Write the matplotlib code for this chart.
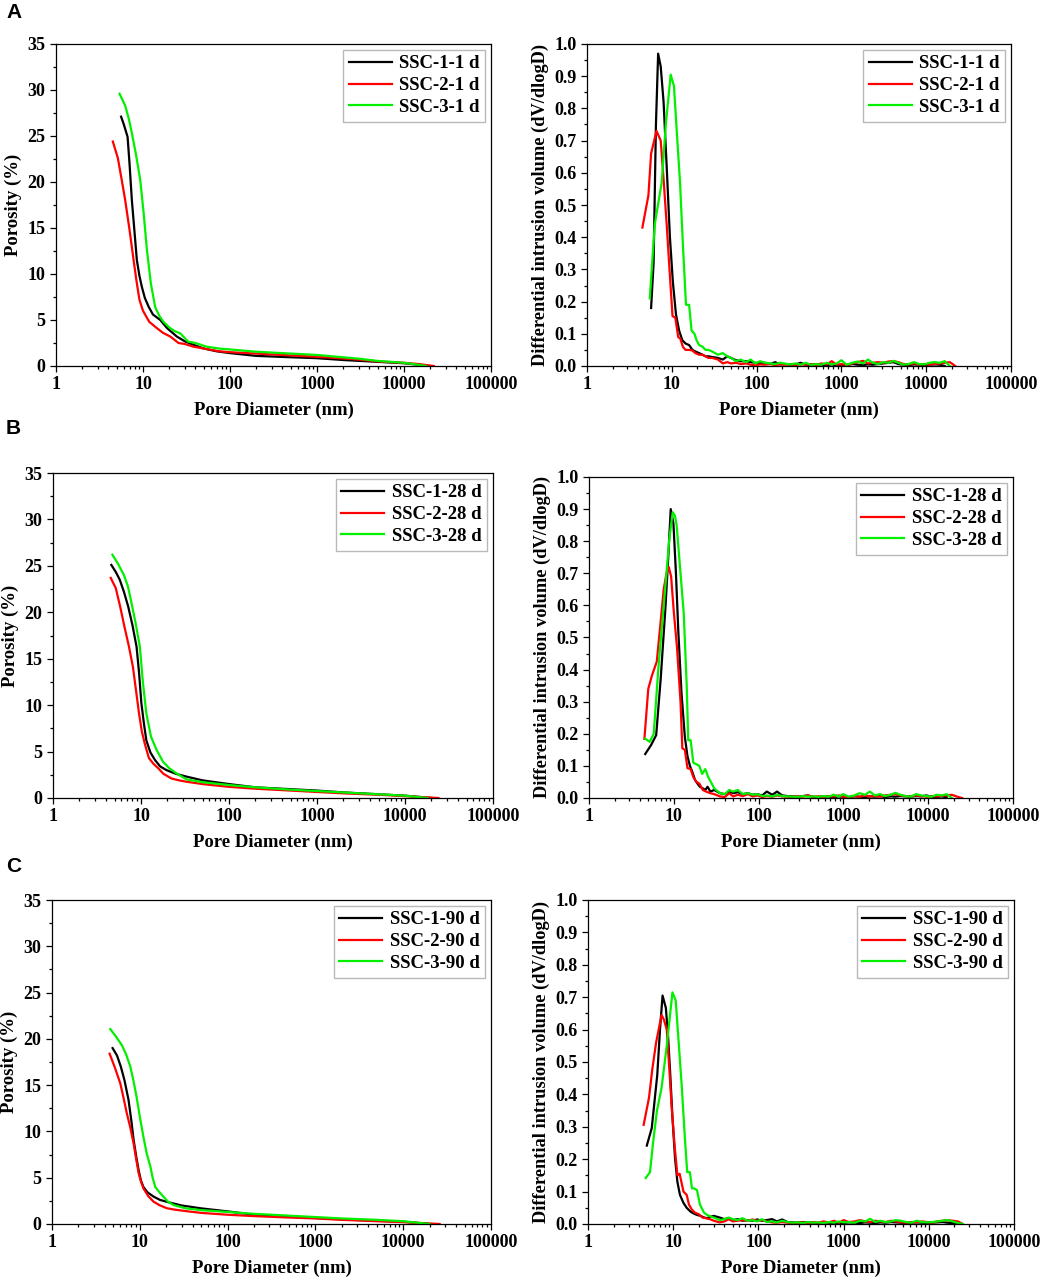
import numpy as np
import matplotlib
matplotlib.use("Agg")
import matplotlib.pyplot as plt
from matplotlib.ticker import LogLocator, NullFormatter, AutoMinorLocator, MultipleLocator

plt.rcParams['font.family'] = ['Liberation Serif', 'DejaVu Serif']
plt.rcParams['font.weight'] = 'bold'

ages = ['1 d', '28 d', '90 d']
samples = ['SSC-1', 'SSC-2', 'SSC-3']
colors = ['black', '#ff0000', '#00f000']

# ---- cumulative porosity (%) vs pore diameter (nm) ----
por_d = {
    ('1 d', 'SSC-1'): [5.6, 6.0, 6.65, 7.0, 7.45, 8.0, 8.5, 9.1, 9.7, 10.5, 11.6, 13.0, 15.8, 19, 24.5, 30, 38, 50, 70, 100, 200, 500, 1000, 2000, 5000, 10000, 18000],
    ('1 d', 'SSC-2'): [4.5, 5.14, 5.7, 6.25, 7.0, 7.8, 8.4, 9.1, 10, 11.8, 14.5, 17, 20.6, 25.6, 30, 38, 50, 75, 100, 200, 500, 1000, 1500, 3000, 5000, 10000, 15000, 22000],
    ('1 d', 'SSC-3'): [5.37, 6.24, 6.9, 7.45, 8.3, 9.3, 10.2, 11.1, 12.3, 13.8, 15.5, 17.2, 20, 23, 26.8, 33, 40, 54, 75, 100, 200, 500, 1000, 1500, 3000, 5000, 10000, 18000],
    ('28 d', 'SSC-1'): [4.6, 5.2, 5.74, 6.4, 7.16, 8.0, 8.9, 9.5, 10.1, 10.8, 11.5, 12.8, 14.4, 16.5, 19.5, 25, 33, 50, 100, 200, 500, 1000, 2000, 5000, 10000, 20000],
    ('28 d', 'SSC-2'): [4.53, 5.17, 5.8, 6.5, 7.3, 8.1, 8.8, 9.5, 10.2, 11.0, 12.3, 13.8, 15.7, 18, 22.2, 27, 33, 50, 100, 200, 500, 1000, 2000, 5000, 10000, 24000],
    ('28 d', 'SSC-3'): [4.73, 5.5, 6.4, 7.1, 7.8, 8.7, 9.7, 10.5, 11.5, 13.0, 15.0, 17.8, 21, 25.3, 33, 50, 100, 200, 500, 1000, 2000, 5000, 10000, 18000],
    ('90 d', 'SSC-1'): [4.9, 5.5, 6.08, 6.7, 7.44, 8.0, 8.5, 9.1, 9.7, 10.3, 11.0, 12.3, 14.4, 17, 22.2, 30, 49, 107, 200, 500, 1000, 2000, 5000, 10000, 20000],
    ('90 d', 'SSC-2'): [4.53, 5.2, 5.99, 6.5, 7.1, 7.8, 8.5, 9.1, 9.7, 10.3, 11.0, 12.5, 14.4, 17, 20.4, 25, 33, 50, 100, 200, 500, 1000, 2000, 5000, 10000, 26000],
    ('90 d', 'SSC-3'): [4.61, 5.4, 6.26, 7.0, 7.8, 8.5, 9.2, 10.0, 11.0, 12.0, 13.2, 14.0, 15.0, 16.5, 18.6, 21, 24.2, 33, 50, 100, 200, 500, 1000, 2000, 5000, 10000, 20000],
}
por_v = {
    ('1 d', 'SSC-1'): [27.1, 26.3, 24.9, 22, 18.0, 14.5, 11.5, 9.8, 8.6, 7.4, 6.45, 5.6, 5.0, 4.1, 3.2, 2.7, 2.3, 1.9, 1.6, 1.4, 1.1, 0.95, 0.85, 0.65, 0.45, 0.3, 0.05],
    ('1 d', 'SSC-2'): [24.4, 22.6, 20.2, 18.0, 14.8, 11.5, 9.3, 7.2, 6.0, 4.8, 4.1, 3.6, 3.2, 2.5, 2.4, 2.1, 1.9, 1.6, 1.5, 1.35, 1.15, 1.0, 0.9, 0.7, 0.5, 0.35, 0.2, 0.0],
    ('1 d', 'SSC-3'): [29.6, 28.3, 26.8, 25.3, 23.0, 20.2, 16.5, 12.6, 9.0, 6.4, 5.4, 4.8, 4.2, 3.8, 3.55, 2.65, 2.5, 2.1, 1.9, 1.8, 1.55, 1.35, 1.2, 1.05, 0.8, 0.55, 0.35, 0.0],
    ('28 d', 'SSC-1'): [25.1, 24.3, 23.5, 22.2, 20.6, 18.6, 16.3, 13.5, 10.2, 8.0, 6.2, 4.9, 4.1, 3.4, 3.0, 2.6, 2.3, 1.9, 1.5, 1.15, 0.95, 0.8, 0.6, 0.4, 0.25, 0.0],
    ('28 d', 'SSC-2'): [23.7, 22.6, 20.6, 18.4, 16.3, 14.1, 11.5, 9.1, 7.2, 5.9, 4.3, 3.7, 3.2, 2.6, 2.1, 1.9, 1.75, 1.5, 1.2, 1.0, 0.8, 0.65, 0.5, 0.35, 0.2, 0.0],
    ('28 d', 'SSC-3'): [26.2, 25.2, 24.0, 22.8, 21.0, 18.8, 16.3, 12.5, 9.1, 6.6, 5.2, 3.9, 3.2, 2.65, 2.0, 1.7, 1.4, 1.15, 0.9, 0.75, 0.6, 0.4, 0.25, 0.0],
    ('90 d', 'SSC-1'): [19.0, 18.2, 17.0, 15.5, 13.4, 11.2, 9.1, 7.3, 5.8, 4.7, 4.0, 3.4, 2.95, 2.6, 2.3, 2.0, 1.7, 1.33, 1.0, 0.8, 0.65, 0.5, 0.35, 0.25, 0.0],
    ('90 d', 'SSC-2'): [18.4, 16.9, 15.2, 13.7, 12.0, 10.4, 8.7, 7.0, 5.5, 4.6, 3.85, 3.0, 2.4, 2.0, 1.7, 1.55, 1.4, 1.2, 1.0, 0.85, 0.7, 0.6, 0.45, 0.3, 0.2, 0.0],
    ('90 d', 'SSC-3'): [21.05, 20.2, 19.3, 18.3, 17.0, 15.4, 13.7, 11.6, 9.4, 7.6, 6.2, 5.0, 4.0, 3.5, 2.95, 2.4, 2.05, 1.7, 1.5, 1.3, 1.1, 0.9, 0.75, 0.6, 0.45, 0.3, 0.0],
}

# ---- differential intrusion (dV/dlogD): main peak part ----
peak_d = {
    ('1 d', 'SSC-1'): [5.7, 6.1, 6.5, 6.9, 7.4, 8.0, 8.7, 9.5, 10.3, 11.2, 12.2, 13.3, 14.5, 16, 17.5, 19, 21, 23, 25, 27],
    ('1 d', 'SSC-2'): [4.5, 5.3, 5.7, 6.6, 7.4, 8.0, 8.7, 9.5, 10.2, 11, 11.9, 12.6, 13.5, 14.5, 16, 17.5, 19, 21, 23, 25, 27],
    ('1 d', 'SSC-3'): [5.5, 6.3, 7.6, 8.5, 9.7, 10.6, 11.5, 12.5, 13.5, 14.7, 16, 17.1, 18.5, 19.6, 21, 23, 25, 27],
    ('28 d', 'SSC-1'): [4.6, 5.4, 6.2, 7.0, 8.0, 8.6, 9.2, 9.9, 10.6, 11.3, 12.3, 13.5, 14.5, 15.5, 16.6, 17.8, 19, 20.3, 22, 23.5, 25, 27],
    ('28 d', 'SSC-2'): [4.5, 5.0, 5.5, 6.3, 7.0, 7.6, 8.2, 8.7, 9.3, 10.0, 10.9, 12.0, 12.6, 13.5, 14.5, 15.8, 17, 18.5, 20, 22, 24, 27],
    ('28 d', 'SSC-3'): [4.6, 5.2, 5.8, 6.6, 7.9, 8.8, 9.7, 10.3, 10.8, 12.0, 13.1, 14.2, 14.8, 15.8, 17, 18.5, 20, 21.6, 23.5, 25.5, 28],
    ('90 d', 'SSC-1'): [4.9, 5.6, 6.5, 7.0, 7.5, 8.2, 8.7, 9.2, 9.8, 10.5, 11.2, 12.0, 13.2, 14.4, 16, 17.5, 19, 21, 23, 25, 27],
    ('90 d', 'SSC-2'): [4.5, 5.2, 5.7, 6.3, 7.3, 7.8, 8.4, 9.0, 9.6, 10.4, 11.2, 11.9, 13.2, 14.4, 15.3, 16.5, 18, 20, 22, 24, 27],
    ('90 d', 'SSC-3'): [4.75, 5.34, 5.8, 6.45, 7.3, 8.4, 9.8, 10.7, 11.6, 12.6, 13.6, 14.6, 15.7, 16.6, 17.5, 19, 20.6, 23, 25, 28],
}
peak_v = {
    ('1 d', 'SSC-1'): [0.18, 0.32, 0.75, 0.97, 0.93, 0.82, 0.62, 0.40, 0.26, 0.16, 0.11, 0.08, 0.07, 0.065, 0.05, 0.045, 0.04, 0.035, 0.03, 0.03],
    ('1 d', 'SSC-2'): [0.43, 0.53, 0.66, 0.73, 0.70, 0.58, 0.44, 0.28, 0.155, 0.15, 0.09, 0.085, 0.06, 0.05, 0.05, 0.048, 0.04, 0.035, 0.035, 0.03, 0.025],
    ('1 d', 'SSC-3'): [0.21, 0.44, 0.57, 0.75, 0.905, 0.87, 0.72, 0.57, 0.38, 0.19, 0.19, 0.11, 0.10, 0.08, 0.065, 0.06, 0.05, 0.05],
    ('28 d', 'SSC-1'): [0.137, 0.165, 0.196, 0.37, 0.60, 0.75, 0.90, 0.855, 0.70, 0.52, 0.33, 0.19, 0.13, 0.10, 0.08, 0.056, 0.045, 0.035, 0.03, 0.025, 0.035, 0.02],
    ('28 d', 'SSC-2'): [0.184, 0.34, 0.38, 0.425, 0.55, 0.65, 0.70, 0.72, 0.69, 0.58, 0.47, 0.30, 0.155, 0.15, 0.093, 0.09, 0.065, 0.05, 0.045, 0.025, 0.02, 0.015],
    ('28 d', 'SSC-3'): [0.185, 0.175, 0.20, 0.41, 0.65, 0.80, 0.89, 0.88, 0.85, 0.70, 0.575, 0.35, 0.18, 0.18, 0.11, 0.105, 0.10, 0.075, 0.09, 0.065, 0.045],
    ('90 d', 'SSC-1'): [0.242, 0.296, 0.46, 0.60, 0.705, 0.667, 0.58, 0.47, 0.33, 0.204, 0.13, 0.09, 0.065, 0.05, 0.038, 0.032, 0.028, 0.025, 0.02, 0.018, 0.022],
    ('90 d', 'SSC-2'): [0.306, 0.39, 0.48, 0.56, 0.645, 0.63, 0.60, 0.48, 0.36, 0.24, 0.15, 0.155, 0.10, 0.09, 0.06, 0.045, 0.035, 0.03, 0.02, 0.018, 0.015],
    ('90 d', 'SSC-3'): [0.142, 0.16, 0.25, 0.35, 0.42, 0.55, 0.715, 0.69, 0.56, 0.425, 0.28, 0.16, 0.16, 0.11, 0.11, 0.105, 0.06, 0.035, 0.028, 0.022],
}

# ---- differential intrusion: noisy tail on a shared diameter list ----
tail_d = [30, 35, 40, 45, 50, 57, 65, 75, 85, 97, 110, 125, 145, 165, 190, 220, 250, 290, 330, 380,
          440, 500, 580, 670, 770, 880, 1000, 1150, 1350, 1550, 1800, 2050, 2350, 2700, 3100, 3600,
          4100, 4700, 5400, 6200, 7200, 8300, 9500, 11000, 12500, 14500, 16500, 19000, 22000, 25000]
nan = np.nan
tail_v = {
    ('1 d', 'SSC-1'): [0.028, 0.025, 0.02, 0.03, 0.025, 0.018, 0.015, 0.015, 0.012, 0.01, 0.008, 0.01, 0.006, 0.012, 0.005, 0.006, 0.004, 0.005, 0.01, 0.004,
                       0.003, 0.006, 0.004, 0.003, 0.005, 0.002, 0.004, 0.003, 0.006, 0.004, 0.003, 0.005, 0.004, 0.006, 0.008, 0.01,
                       0.012, 0.006, 0.004, 0.003, 0.005, 0.004, 0.003, 0.004, 0.005, 0.004, 0.0, nan, nan, nan],
    ('1 d', 'SSC-2'): [0.025, 0.02, 0.008, 0.012, 0.008, 0.01, 0.006, 0.008, 0.004, 0.002, 0.005, 0.004, 0.006, 0.003, 0.005, 0.004, 0.006, 0.003, 0.005, 0.004,
                       0.006, 0.003, 0.008, 0.005, 0.015, 0.004, 0.006, 0.003, 0.008, 0.012, 0.016, 0.008, 0.01, 0.012, 0.01, 0.014,
                       0.015, 0.012, 0.006, 0.005, 0.008, 0.005, 0.006, 0.004, 0.006, 0.008, 0.01, 0.012, 0.0, nan],
    ('1 d', 'SSC-3'): [0.045, 0.035, 0.04, 0.03, 0.025, 0.015, 0.02, 0.012, 0.02, 0.008, 0.015, 0.01, 0.008, 0.006, 0.01, 0.007, 0.005, 0.008, 0.004, 0.01,
                       0.003, 0.006, 0.004, 0.01, 0.005, 0.008, 0.018, 0.004, 0.01, 0.014, 0.008, 0.02, 0.01, 0.006, 0.012, 0.01,
                       0.016, 0.01, 0.004, 0.006, 0.012, 0.006, 0.005, 0.01, 0.012, 0.01, 0.015, 0.0, nan, nan],
    ('28 d', 'SSC-1'): [0.025, 0.015, 0.012, 0.02, 0.015, 0.018, 0.012, 0.015, 0.01, 0.012, 0.008, 0.02, 0.01, 0.02, 0.008, 0.006, 0.005, 0.004, 0.006, 0.008,
                        0.004, 0.003, 0.005, 0.004, 0.003, 0.005, 0.004, 0.003, 0.005, 0.004, 0.003, 0.005, 0.004, 0.006, 0.003, 0.005,
                        0.004, 0.006, 0.005, 0.004, 0.006, 0.005, 0.008, 0.004, 0.003, 0.005, 0.002, nan, nan, nan],
    ('28 d', 'SSC-2'): [0.012, 0.005, 0.003, 0.015, 0.005, 0.01, 0.006, 0.012, 0.005, 0.008, 0.003, 0.006, 0.004, 0.008, 0.005, 0.004, 0.003, 0.005, 0.004, 0.008,
                        0.003, 0.005, 0.004, 0.006, 0.005, 0.008, 0.004, 0.003, 0.006, 0.004, 0.008, 0.005, 0.006, 0.004, 0.008, 0.01,
                        0.012, 0.008, 0.006, 0.005, 0.008, 0.006, 0.004, 0.006, 0.005, 0.007, 0.008, 0.01, 0.004, 0.0],
    ('28 d', 'SSC-3'): [0.03, 0.015, 0.012, 0.025, 0.02, 0.025, 0.012, 0.015, 0.01, 0.012, 0.006, 0.008, 0.005, 0.01, 0.006, 0.005, 0.004, 0.003, 0.006, 0.004,
                        0.005, 0.003, 0.006, 0.004, 0.01, 0.005, 0.012, 0.004, 0.008, 0.015, 0.01, 0.02, 0.008, 0.012, 0.006, 0.01,
                        0.016, 0.01, 0.006, 0.004, 0.012, 0.008, 0.006, 0.004, 0.01, 0.008, 0.012, 0.0, nan, nan],
    ('90 d', 'SSC-1'): [0.025, 0.02, 0.015, 0.018, 0.012, 0.015, 0.01, 0.012, 0.01, 0.014, 0.01, 0.012, 0.015, 0.008, 0.014, 0.006, 0.005, 0.004, 0.006, 0.005,
                        0.004, 0.003, 0.005, 0.004, 0.003, 0.004, 0.003, 0.005, 0.004, 0.003, 0.005, 0.004, 0.003, 0.005, 0.004, 0.006,
                        0.005, 0.004, 0.003, 0.004, 0.005, 0.004, 0.003, 0.004, 0.005, 0.006, 0.004, 0.003, 0.0, nan],
    ('90 d', 'SSC-2'): [0.01, 0.005, 0.008, 0.015, 0.008, 0.01, 0.012, 0.01, 0.014, 0.01, 0.012, 0.008, 0.005, 0.004, 0.006, 0.004, 0.003, 0.004, 0.005, 0.003,
                        0.006, 0.004, 0.008, 0.005, 0.01, 0.004, 0.012, 0.006, 0.008, 0.012, 0.008, 0.006, 0.01, 0.008, 0.006, 0.01,
                        0.008, 0.006, 0.004, 0.006, 0.005, 0.008, 0.006, 0.004, 0.008, 0.01, 0.012, 0.01, 0.008, 0.0],
    ('90 d', 'SSC-3'): [0.02, 0.012, 0.015, 0.02, 0.015, 0.012, 0.018, 0.01, 0.012, 0.008, 0.015, 0.006, 0.008, 0.005, 0.01, 0.006, 0.004, 0.005, 0.003, 0.006,
                        0.004, 0.005, 0.003, 0.006, 0.004, 0.008, 0.005, 0.006, 0.004, 0.01, 0.008, 0.016, 0.006, 0.01, 0.006, 0.008,
                        0.012, 0.01, 0.006, 0.004, 0.01, 0.006, 0.005, 0.006, 0.008, 0.01, 0.012, 0.008, 0.003, 0.0],
}

# axes boxes in pixels: (left, right, top, bottom)
W, H = 1045, 1279
boxes = [
    [(56, 491, 44, 366), (587, 1011, 44, 366)],
    [(53, 493, 473, 798), (589, 1013, 477, 798)],
    [(52, 491, 900, 1224), (588, 1014, 900, 1224)],
]
letters = ['A', 'B', 'C']
letter_y = [12, 428, 866]

fig = plt.figure(figsize=(W / 100, H / 100), dpi=100)


def style_axis(ax):
    ax.set_xscale('log')
    ax.set_xlim(1, 100000)
    ax.set_xticks([1, 10, 100, 1000, 10000, 100000])
    ax.set_xticklabels(['1', '10', '100', '1000', '10000', '100000'])
    ax.xaxis.set_minor_locator(LogLocator(base=10, subs=np.arange(2, 10), numticks=20))
    ax.xaxis.set_minor_formatter(NullFormatter())
    ax.tick_params(which='both', direction='out', top=False, right=False, labelsize=13, width=0.9)
    ax.tick_params(which='major', length=4.5, pad=3)
    ax.tick_params(which='minor', length=2.5)
    for sp in ax.spines.values():
        sp.set_linewidth(0.9)
    ax.set_xlabel('Pore Diameter (nm)', fontsize=13.5, fontweight='bold', labelpad=6)


def add_legend(ax):
    leg = ax.legend(loc='upper right', fontsize=13.5, frameon=True, fancybox=False,
                    edgecolor='#a8a8a8', handlelength=2.3, handletextpad=0.4,
                    labelspacing=0.25, borderaxespad=0.3, borderpad=0.3)
    leg.get_frame().set_linewidth(1.0)
    for t in leg.get_texts():
        t.set_fontweight('bold')


for r, age in enumerate(ages):
    (l0, l1, t0, b0), (l2, l3, t2, b2) = boxes[r]
    axl = fig.add_axes([l0 / W, 1 - b0 / H, (l1 - l0) / W, (b0 - t0) / H])
    axr = fig.add_axes([l2 / W, 1 - b2 / H, (l3 - l2) / W, (b2 - t2) / H])

    for s, c in zip(samples, colors):
        key = (age, s)
        axl.plot(por_d[key], por_v[key], color=c, lw=1.6, label=f'{s}-{age}')
        d = list(peak_d[key]) + tail_d
        v = list(peak_v[key]) + tail_v[key]
        axr.plot(d, v, color=c, lw=1.6, label=f'{s}-{age}')

    style_axis(axl)
    axl.set_ylim(0, 35)
    axl.set_yticks(range(0, 36, 5))
    axl.yaxis.set_minor_locator(AutoMinorLocator(2))
    axl.set_ylabel('Porosity (%)', fontsize=13.5, fontweight='bold', labelpad=4)
    add_legend(axl)

    style_axis(axr)
    axr.set_ylim(0, 1.0)
    axr.yaxis.set_major_locator(MultipleLocator(0.1))
    axr.yaxis.set_minor_locator(AutoMinorLocator(2))
    axr.yaxis.set_major_formatter(matplotlib.ticker.FormatStrFormatter('%.1f'))
    axr.set_ylabel('Differential intrusion volume (dV/dlogD)', fontsize=13.2, fontweight='bold', labelpad=4)
    add_legend(axr)

    fig.text(6 / W, 1 - letter_y[r] / H, letters[r], fontsize=15, fontweight='bold',
             family=['Liberation Sans', 'DejaVu Sans'], ha='left', va='center')

fig.savefig('out.png', dpi=100)
